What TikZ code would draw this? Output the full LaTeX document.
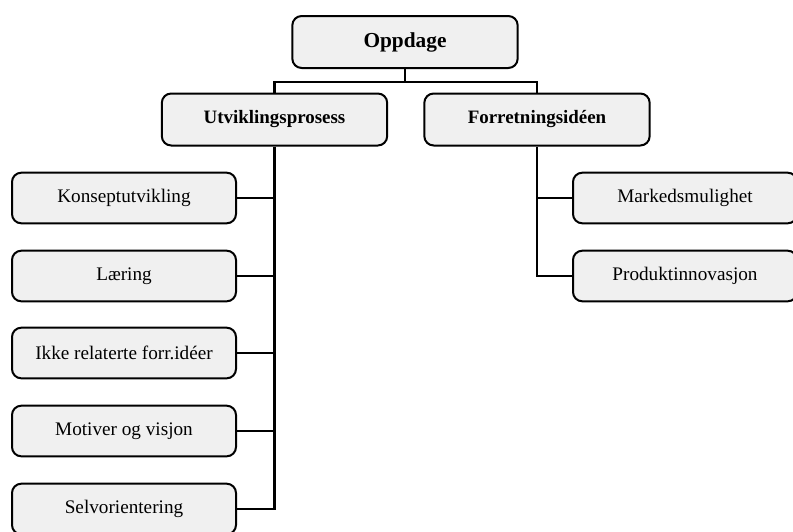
\documentclass[tikz,border=0pt]{standalone}
\usepackage{fontspec}
\setmainfont{Liberation Serif}
\begin{document}
\begin{tikzpicture}[x=0.75pt,y=-0.75pt,
  box/.style={draw=black, line width=1.5pt, rounded corners=7pt, fill=gray!12,
    inner sep=0pt, minimum width=168pt, minimum height=38pt, font=\fontsize{14.4}{17}\selectfont},
  headbox/.style={box, font=\fontsize{14.2}{17}\selectfont\bfseries, minimum width=169pt, minimum height=39pt},
  link/.style={draw=black, line width=1.6pt}]
\useasboundingbox (0,0) rectangle (793,532);

% root
\node[headbox, font=\fontsize{16}{19}\selectfont\bfseries] (root) at (405,42) {Oppdage};

% second level
\node[headbox] (utv) at (274.5,119.5) {Utviklingsprosess};
\node[headbox] (forr) at (537,119.5) {Forretningsidéen};

% development branch
\node[box] (k1) at (124,198) {Konseptutvikling};
\node[box] (k2) at (124,276) {Læring};
\node[box] (k3) at (124,353) {Ikke relaterte forr.idéer};
\node[box] (k4) at (124,431) {Motiver og visjon};
\node[box] (k5) at (124,509) {Selvorientering};

% business-idea branch
\node[box] (m1) at (685,198) {Markedsmulighet};
\node[box] (m2) at (685,276) {Produktinnovasjon};

% connectors
\coordinate (j) at (405,82);
\draw[link] (root.south) -- (j);
\draw[link] (utv.north) |- (j) -| (forr.north);

\draw[link] (utv.south) -- (utv.south |- k5.east) -- (k5.east);
\foreach \n in {k1,k2,k3,k4}
  \draw[link] (\n.east) -- (\n.east -| utv.south);

\draw[link] (forr.south) |- (m2.west);
\draw[link] (m1.west) -- (m1.west -| forr.south);
\end{tikzpicture}
\end{document}
